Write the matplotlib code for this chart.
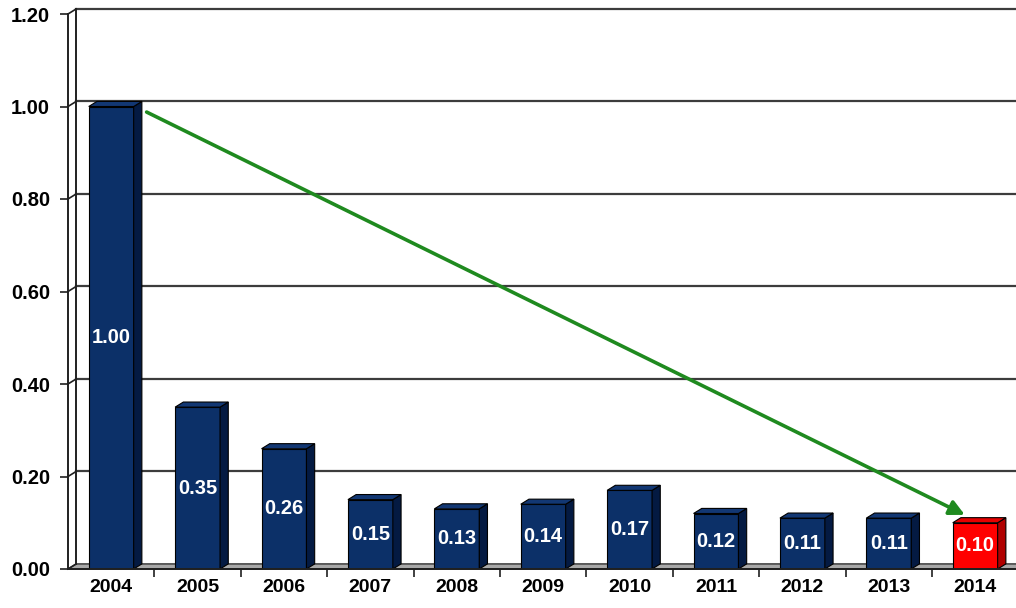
import matplotlib
matplotlib.use("Agg")
import matplotlib.pyplot as plt
from matplotlib.patches import Polygon

# ----- Data -----
years  = ["2004", "2005", "2006", "2007", "2008", "2009", "2010", "2011", "2012", "2013", "2014"]
values = [1.00, 0.35, 0.26, 0.15, 0.13, 0.14, 0.17, 0.12, 0.11, 0.11, 0.10]
yticks = [0.0, 0.2, 0.4, 0.6, 0.8, 1.0, 1.2]
# ----------------

FRONT = "#0c3068"
SIDE  = "#041a42"
TOP   = "#123773"
RED_FRONT = "#ff0000"
RED_SIDE  = "#b00000"
RED_TOP   = "#e60000"
GREEN = "#1f8a1f"
FONT = "Liberation Sans"

W  = 0.52    # bar width
DX = 0.095   # depth offset (x, data units)
DY = 0.011   # depth offset (y, data units)

fig = plt.figure(figsize=(10.16, 6.08), dpi=100)
ax = fig.add_axes([68 / 1016, 39 / 608, 950.4 / 1016, 555 / 608])
ax.set_xlim(-0.5, len(years) - 0.5)
ax.set_ylim(0, 1.2)

x0 = -0.5
x1 = len(years) - 0.5

# floor
ax.add_patch(Polygon([(x0, 0), (x1 + 1, 0), (x1 + 1 + DX, DY), (x0 + DX, DY)],
                     closed=True, facecolor="#a8a8a8", edgecolor="#303030",
                     lw=1, zorder=1, clip_on=False))

# back wall grid + left wall slants
for t in yticks[1:]:
    ax.plot([x0 + DX, x1 + 1], [t + DY, t + DY], color="#3c3c3c", lw=1.6,
            zorder=1, clip_on=False)
for t in yticks:
    ax.plot([x0, x0 + DX], [t, t + DY], color="#202020", lw=1.2,
            zorder=1, clip_on=False)
ax.plot([x0 + DX, x0 + DX], [DY, 1.2 + DY], color="#202020", lw=1.4,
        zorder=1, clip_on=False)

# bars
xs = list(range(len(years)))
colors = [FRONT] * (len(years) - 1) + [RED_FRONT]
sides  = [SIDE] * (len(years) - 1) + [RED_SIDE]
tops   = [TOP] * (len(years) - 1) + [RED_TOP]
ax.bar(xs, values, width=W, color=colors, edgecolor="black", lw=0.8, zorder=3)
for x, v, sc, tc in zip(xs, values, sides, tops):
    r = x + W / 2
    l = x - W / 2
    ax.add_patch(Polygon([(r, 0), (r + DX, DY), (r + DX, v + DY), (r, v)],
                         closed=True, facecolor=sc, edgecolor="black",
                         lw=0.8, zorder=3))
    ax.add_patch(Polygon([(l, v), (r, v), (r + DX, v + DY), (l + DX, v + DY)],
                         closed=True, facecolor=tc, edgecolor="black",
                         lw=0.8, zorder=3))
    ax.text(x, v / 2, f"{v:.2f}", ha="center", va="center", color="white",
            fontsize=14.5, fontweight="bold", family=FONT, zorder=5)

# trend arrow
ax.annotate("", xy=(xs[-1] - 0.12, values[-1] + 0.017),
            xytext=(xs[0] + 0.41, values[0] - 0.012),
            arrowprops=dict(arrowstyle="-|>,head_length=0.9,head_width=0.45",
                            color=GREEN, lw=2.6, shrinkA=0, shrinkB=0),
            zorder=6)

# axes
for s in ["top", "right"]:
    ax.spines[s].set_visible(False)
ax.spines["left"].set_color("#202020")
ax.spines["left"].set_linewidth(1.4)
ax.spines["bottom"].set_color("#202020")
ax.spines["bottom"].set_linewidth(1.4)
ax.spines["bottom"].set_zorder(4)

ax.set_yticks(yticks)
ax.set_yticklabels([f"{t:.2f}" for t in yticks], fontsize=14.5,
                   fontweight="bold", family=FONT)
ax.tick_params(axis="y", length=6, width=1.2, pad=7, color="#202020")

ax.set_xticks(xs)
ax.set_xticklabels(years, fontsize=14, fontweight="bold", family=FONT)
ax.tick_params(axis="x", which="major", length=0, pad=7)
ax.set_xticks([x + 0.5 for x in xs[:-1]] + [x1], minor=True)
ax.tick_params(axis="x", which="minor", length=6, width=1.2, color="#202020")

fig.savefig("out.png", dpi=100)
